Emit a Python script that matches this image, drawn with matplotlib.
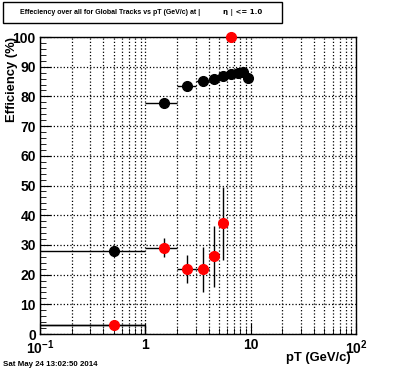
import numpy as np
import matplotlib
matplotlib.use("Agg")
import matplotlib.pyplot as plt
from matplotlib.ticker import FixedLocator, NullFormatter, MultipleLocator

plt.rcParams['font.family'] = ['Liberation Sans', 'DejaVu Sans']
plt.rcParams['font.weight'] = 'bold'
plt.rcParams['mathtext.fontset'] = 'custom'
plt.rcParams['mathtext.rm'] = 'Liberation Sans:bold'
plt.rcParams['mathtext.bf'] = 'Liberation Sans:bold'

# global tracks (black)
pt_glob = [0.5, 1.5, 2.5, 3.5, 4.5, 5.5, 6.5, 7.5, 8.5, 9.5]
eff_glob = [28.0, 77.8, 83.5, 85.2, 85.8, 86.9, 87.4, 88.0, 88.3, 86.1]
pt_err_glob = [0.5] * 10

# second set (red)
pt_red = [0.5, 1.5, 2.5, 3.5, 4.5, 5.5, 6.5]
eff_red = [3.0, 29.1, 21.8, 21.8, 26.2, 37.3, 100.0]
eff_err_red = [0.0, 3.3, 4.7, 7.5, 10.3, 12.3, 0.0]
pt_err_red = [0.5, 0.5, 0.5, 0.5, 0.0, 0.0, 0.0]

fig = plt.figure(figsize=(3.96, 3.72), dpi=100)
ax = fig.add_axes([0.101, 0.102, 0.798, 0.7985])

ax.set_xscale('log')
ax.set_xlim(0.1, 100)
ax.set_ylim(0, 100)

# step outline of first bin for the red set
ax.plot([0.1, 1, 1], [eff_red[0], eff_red[0], 0], color='black', lw=1)

ax.errorbar(pt_glob, eff_glob, xerr=pt_err_glob, fmt='o', color='black',
            ms=7, elinewidth=1, capsize=0, zorder=3)
ax.errorbar(pt_red[:-1], eff_red[:-1], xerr=pt_err_red[:-1], yerr=eff_err_red[:-1],
            fmt='o', mfc='red', mec='red', ecolor='black', ms=7, elinewidth=1,
            capsize=0, zorder=4)
# last point sits on the frame, not clipped
ax.plot(pt_red[-1:], eff_red[-1:], 'o', color='red', ms=7, zorder=5, clip_on=False)

ax.xaxis.set_major_locator(FixedLocator([0.1, 1, 10, 100]))
ax.set_xticklabels(['$10^{-1}$', '1', '10', '$10^{2}$'])
minors = [m * d for d in [0.1, 1, 10] for m in range(2, 10)]
ax.xaxis.set_minor_locator(FixedLocator(minors))
ax.xaxis.set_minor_formatter(NullFormatter())
ax.yaxis.set_major_locator(MultipleLocator(10))
ax.yaxis.set_minor_locator(MultipleLocator(2))

ax.grid(True, which='major', color='black', ls=':', lw=0.9)
ax.grid(True, which='minor', axis='x', color='black', ls=':', lw=0.9)

ax.tick_params(which='both', direction='in', top=False, right=False)
ax.tick_params(which='major', length=8, labelsize=10, pad=3)
ax.tick_params(which='minor', length=4)
for s in ax.spines.values():
    s.set_linewidth(1)

ax.set_xlabel('pT (GeV/c)', fontsize=9.4, fontweight='bold', ha='right', va='center')
ax.xaxis.set_label_coords(0.984, -0.081)
ax.set_ylabel('Efficiency (%)', fontsize=9.4, fontweight='bold', ha='right', va='center')
ax.yaxis.set_label_coords(-0.088, 1.0)

# title box
fig.patches.append(plt.Rectangle((3 / 396, 1 - 23 / 372), 279 / 396, 21 / 372,
                                 transform=fig.transFigure, fill=False,
                                 edgecolor='black', lw=1))
fig.text(20 / 396, 1 - 13 / 372, 'Effeciency over all for Global Tracks vs pT (GeV/c) at |',
         fontsize=5.0, fontweight='bold', va='center')
fig.text(223 / 396, 1 - 13 / 372, 'η | <= 1.0', fontsize=5.0, fontweight='bold', va='center',
         family=['DejaVu Sans'])

fig.text(3 / 396, 1 - 364 / 372, 'Sat May 24 13:02:50 2014', fontsize=5.7,
         fontweight='bold', va='center')

fig.savefig('out.png', dpi=100)
